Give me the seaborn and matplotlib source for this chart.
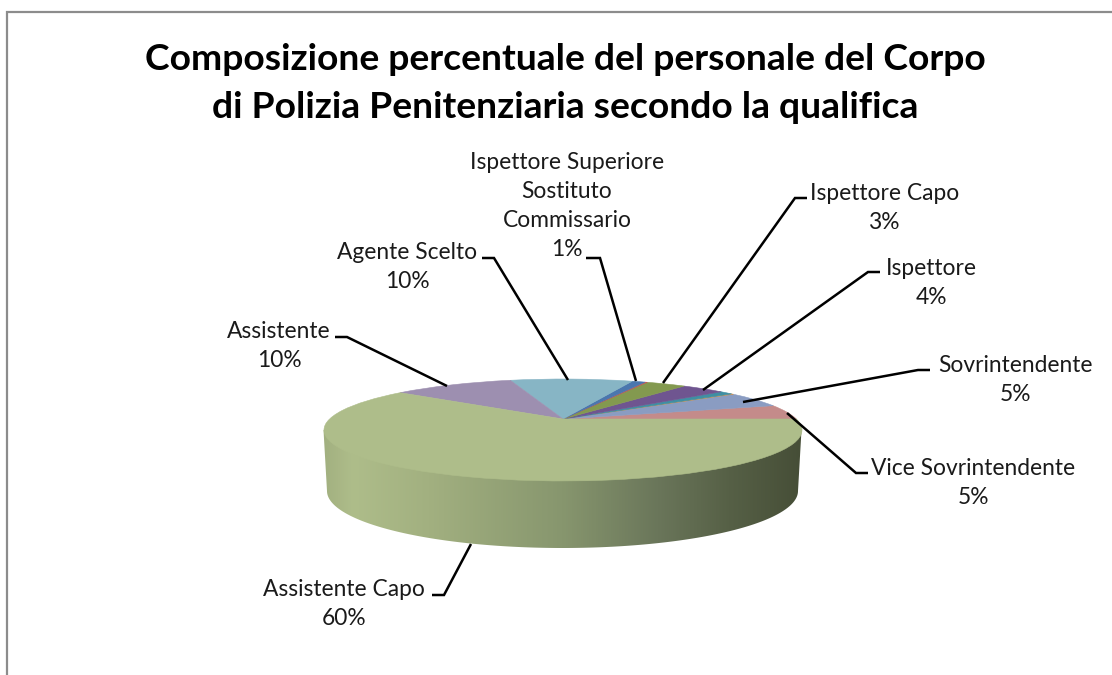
import numpy as np
import matplotlib
matplotlib.use("Agg")
import matplotlib.pyplot as plt
import seaborn as sns
from matplotlib.colors import LinearSegmentedColormap
from matplotlib.patches import Polygon
from matplotlib.path import Path
from matplotlib.transforms import Transform

# ---- data ----
categories = ["Vice Sovrintendente", "Sovrintendente", "Altro A", "Altro B", "Ispettore",
              "Ispettore Capo", "Altro C", "Ispettore Superiore\nSostituto\nCommissario",
              "Agente Scelto", "Assistente", "Assistente Capo"]
values = [4.7, 5.0, 0.2, 1.1, 3.6, 3.3, 0.2, 1.1, 10.2, 10.1, 60.5]
slice_colors = ["#C48B8A", "#8A9CC2", "#C8935A", "#3F8FA3", "#6F5590", "#83994F",
                "#BE5A55", "#4A76AE", "#87B5C5", "#9D8FB0", "#AEBD8A"]
label_names = ["Ispettore Superiore\nSostituto\nCommissario", "Ispettore Capo", "Ispettore",
               "Sovrintendente", "Vice Sovrintendente", "Assistente Capo", "Assistente", "Agente Scelto"]
label_pcts = [1, 3, 4, 5, 5, 60, 10, 10]
title_lines = ["Composizione percentuale del personale del Corpo",
               "di Polizia Penitenziaria secondo la qualifica"]

# ---- layout (pixels) ----
W, H = 1112, 675
label_xy = [(567, 206), (885, 208), (931, 283), (1015, 380), (973, 483), (344, 604), (279, 346), (407, 267)]
leaders = [[(586, 258), (600, 258), (636, 381)],
           [(807, 198), (795, 198), (663, 383)],
           [(880, 272), (868, 272), (703, 390)],
           [(930, 370), (918, 370), (743, 402)],
           [(868, 473), (856, 473), (787, 413)],
           [(432, 595), (444, 595), (471, 544)],
           [(335, 337), (347, 337), (447, 386)],
           [(482, 258), (494, 258), (568, 380)]]


class Perspective(Transform):
    """Unit circle -> tilted disc seen in perspective (pixel coordinates)."""
    input_dims = output_dims = 2
    k, R, A, cx, cy = 0.2157, 233.4, 48.6, 563.0, 419.0

    def transform_non_affine(self, v):
        v = np.asarray(v, float)
        w = 1 + self.k * v[:, 1]
        return np.column_stack((self.cx + self.R * v[:, 0] / w, self.cy - self.A * v[:, 1] / w))

    def transform_path_non_affine(self, path):
        return Path(self.transform_non_affine(path.vertices), path.codes)


sns.set_theme(style="white")
plt.rcParams["font.family"] = ["Lato", "DejaVu Sans"]
palette = sns.color_palette(slice_colors)

fig = plt.figure(figsize=(W / 100, H / 100), dpi=100, facecolor="white")
ax = fig.add_axes([0, 0, 1, 1])

# side wall with horizontal gradient (its top runs hidden under the disc)
t = np.linspace(np.pi, 2 * np.pi, 200)
bot_edge = np.column_stack((562.5 + 235.5 * np.cos(t), 491 - 57 * np.sin(t)))
wall = Polygon(np.vstack(([[323.5, 430]], bot_edge, [[801.5, 430]])), closed=True,
               transform=ax.transData, facecolor="none", edgecolor="none")
ax.add_patch(wall)
cmap = LinearSegmentedColormap.from_list("wall", [
    (0.00, "#A2B080"), (0.06, "#AEBD8A"), (0.22, "#A2B080"), (0.50, "#87966E"),
    (0.70, "#6A765A"), (0.85, "#566046"), (1.00, "#464E37")])
img = ax.imshow(np.linspace(0, 1, 512)[None, :], cmap=cmap, aspect="auto",
                extent=(323, 802, 560, 420), zorder=1)
img.set_clip_path(wall)

# top face
wedges, _ = ax.pie(values, colors=palette, startangle=0, counterclock=True, normalize=True)
persp = Perspective()
for wd, col in zip(wedges, palette):
    wd.set_transform(persp + ax.transData)
    wd.set_edgecolor(col)
    wd.set_linewidth(0.4)
    wd.set_zorder(2)

# leader lines
for pts in leaders:
    xs, ys = zip(*pts)
    ax.plot(xs, ys, color="black", lw=1.8, solid_capstyle="butt", solid_joinstyle="miter", zorder=3)

# labels
for name, pct, (x, y) in zip(label_names, label_pcts, label_xy):
    ax.text(x, y, f"{name}\n{pct}%", ha="center", va="center", fontsize=16.4, color="#1a1a1a",
            linespacing=1.46, zorder=4)

# title
ax.text(565, 59, title_lines[0], ha="center", va="center", fontsize=26.8, fontweight="bold", color="black")
ax.text(565, 107, title_lines[1], ha="center", va="center", fontsize=26.8, fontweight="bold", color="black")

# outer frame
ax.plot([7, 7, W], [H, 12, 12], color="#8C8C8C", lw=1.6, solid_joinstyle="miter", zorder=5)

ax.set_aspect("auto")
ax.set_xlim(0, W)
ax.set_ylim(H, 0)
ax.axis("off")
fig.savefig("out.png", dpi=100, facecolor="white")
